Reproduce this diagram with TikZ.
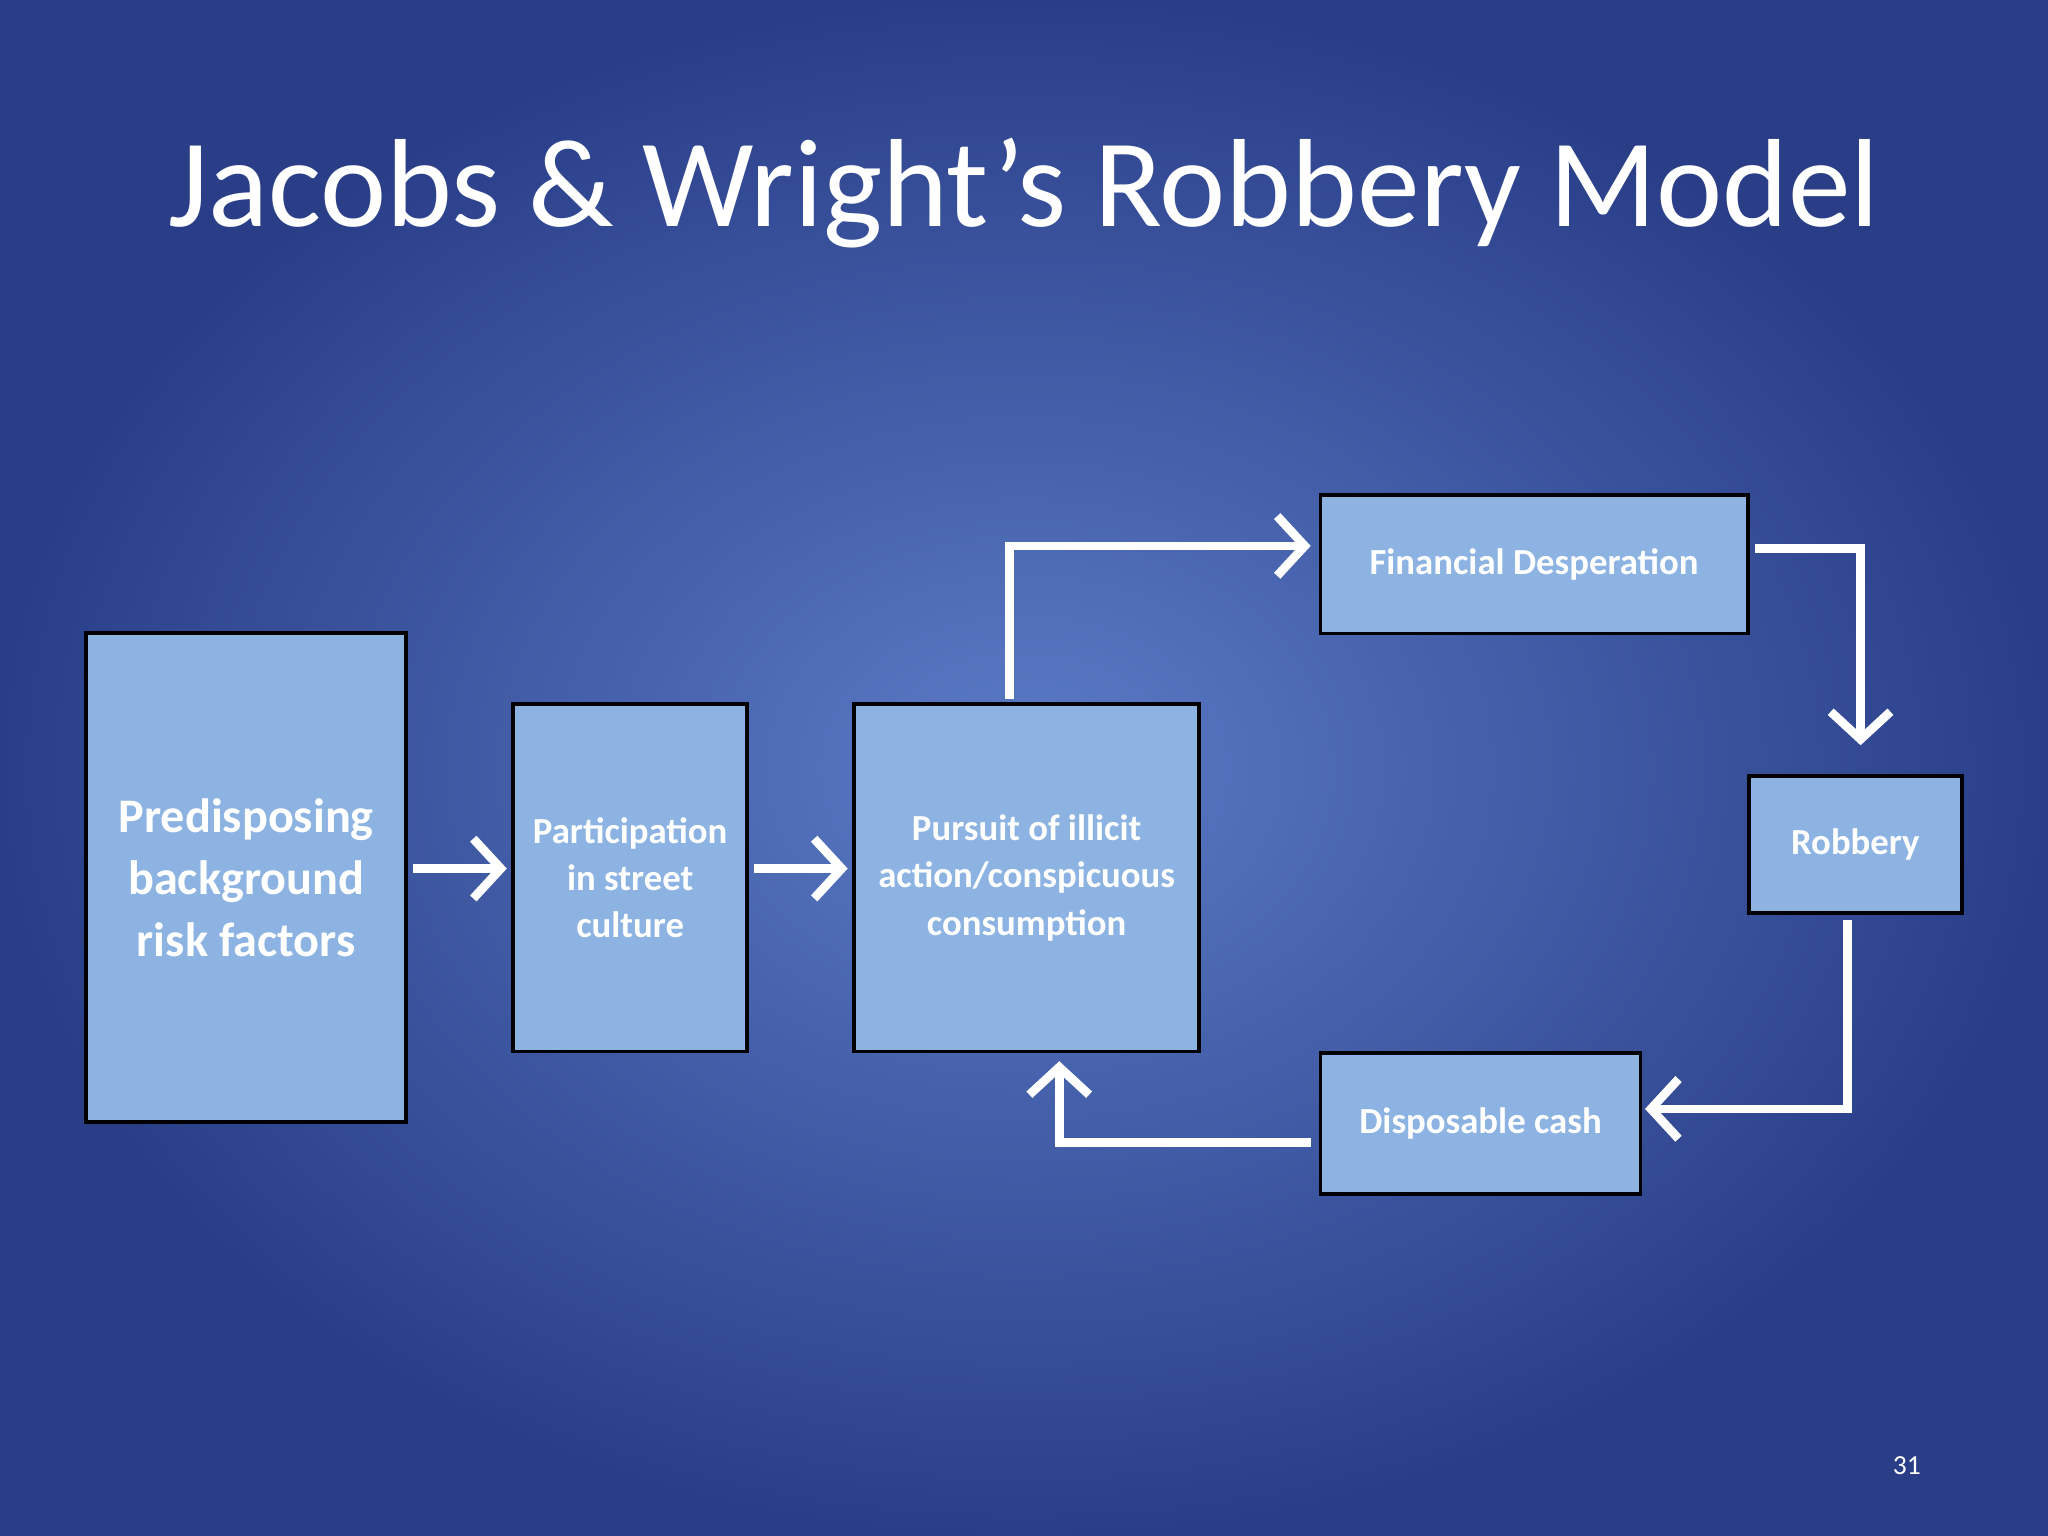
\documentclass[tikz,border=0pt]{standalone}
\usepackage{fontspec}
\setmainfont{Carlito}
\usetikzlibrary{calc,arrows.meta}
\definecolor{boxfill}{HTML}{8DB3E2}
\definecolor{bgin}{HTML}{5B7BC6}
\definecolor{bgout}{HTML}{2A3E88}
\begin{document}
\begin{tikzpicture}[x=0.01cm,y=-0.01cm,
  box/.style={draw=black,line width=0.8pt,fill=boxfill,text=white,font=\bfseries,align=center,inner sep=0pt},
  flow/.style={draw=white,line width=1.9pt,-{Straight Barb[length=6pt,width=13pt,line width=1.9pt]}}]
\useasboundingbox (0,0) rectangle (1568,1176);
\shade[inner color=bgin,outer color=bgout] (0,0) rectangle (1568,1176);
\node[text=white,font=\fontsize{27.3}{33}\selectfont] (title) at (784,148) {Jacobs \& Wright’s Robbery Model};
\node[box,minimum width=2.45cm,minimum height=3.74cm,font=\bfseries\fontsize{10.5}{13.5}\selectfont] (pre) at (188.5,672) {Predisposing\\background\\risk factors};
\node[box,minimum width=1.79cm,minimum height=2.66cm,font=\bfseries\fontsize{8}{10.3}\selectfont] (par) at (482.5,672) {Participation\\in street\\culture};
\node[box,minimum width=2.64cm,minimum height=2.66cm,font=\bfseries\fontsize{8}{10.3}\selectfont] (pur) at (786,672) {Pursuit of illicit\\action/conspicuous\\consumption};
\node[box,minimum width=3.27cm,minimum height=1.06cm,font=\bfseries\fontsize{8}{10}\selectfont] (fin) at (1174.5,432) {Financial Desperation};
\node[box,minimum width=1.63cm,minimum height=1.05cm,font=\bfseries\fontsize{8}{10}\selectfont] (rob) at (1420.5,646.5) {Robbery};
\node[box,minimum width=2.45cm,minimum height=1.08cm,font=\bfseries\fontsize{8}{10}\selectfont] (dis) at (1133.5,860) {Disposable cash};
\node[text=white,font=\fontsize{6}{7}\selectfont] (pg) at (1460,1122) {31};
\draw[flow,shorten <=1pt,shorten >=1pt] (pre.east|-0,665) -- (par.west|-0,665);
\draw[flow,shorten <=1pt,shorten >=1pt] (par.east|-0,665) -- (pur.west|-0,665);
\draw[flow] ($(pur.north)+(-13,-2)$) |- ($(fin.west)+(-6,-14)$);
\draw[flow] ($(fin.east)+(4,-12)$) -| ($(rob.north)+(4,-22)$);
\draw[flow] ($(rob.south)+(-6,4)$) |- ($(dis.east)+(2,-11)$);
\draw[flow] ($(dis.west)+(-6,15)$) -| ($(pur.south)+(25,6)$);
\end{tikzpicture}
\end{document}
